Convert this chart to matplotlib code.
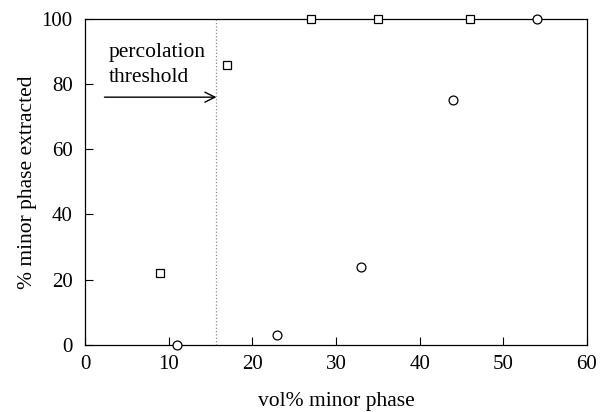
import matplotlib
matplotlib.use("Agg")
import matplotlib.pyplot as plt

# data
sq_x = [9, 17, 27, 35, 46]
sq_y = [22, 86, 100, 100, 100]
circ_x = [11, 23, 33, 44, 54]
circ_y = [0, 3, 24, 75, 100]
threshold_x = 15.7
xticks = [0, 10, 20, 30, 40, 50, 60]
yticks = [0, 20, 40, 60, 80, 100]

plt.rcParams['font.family'] = ['Liberation Serif', 'DejaVu Serif']
plt.rcParams['font.size'] = 15

fig = plt.figure(figsize=(6, 4.12), dpi=100)
ax = fig.add_axes([0.142, 0.163, 0.836, 0.791])

# percolation threshold line
ax.axvline(threshold_x, color='0.55', linestyle=':', linewidth=0.9, zorder=1)

ax.plot(sq_x, sq_y, linestyle='none', marker='s', markersize=6.1,
        markerfacecolor='white', markeredgecolor='black', markeredgewidth=0.9,
        clip_on=False, zorder=3)
ax.plot(circ_x, circ_y, linestyle='none', marker='o', markersize=6.4,
        markerfacecolor='white', markeredgecolor='black', markeredgewidth=0.9,
        clip_on=False, zorder=3)

ax.annotate('', xy=(threshold_x, 76), xytext=(2.3, 76),
            arrowprops=dict(arrowstyle='->', color='black', lw=1.0,
                            mutation_scale=18, shrinkA=0, shrinkB=0))
ax.text(2.8, 88.3, 'percolation', ha='left', va='baseline', fontsize=15.5)
ax.text(2.8, 80.7, 'threshold', ha='left', va='baseline', fontsize=15.5)

ax.set_xlim(0, 60)
ax.set_ylim(0, 100)
ax.set_xticks(xticks)
ax.set_yticks(yticks)
ax.tick_params(direction='in', length=5.5, width=0.8, top=False, right=False,
               labelsize=15)
ax.tick_params(axis='x', pad=7)
ax.tick_params(axis='y', pad=9)
for s in ax.spines.values():
    s.set_linewidth(0.9)

ax.set_xlabel('vol% minor phase', fontsize=15.5, labelpad=13)
ax.set_ylabel('% minor phase extracted', fontsize=15.5, labelpad=3)

fig.savefig('out.png', dpi=100)
